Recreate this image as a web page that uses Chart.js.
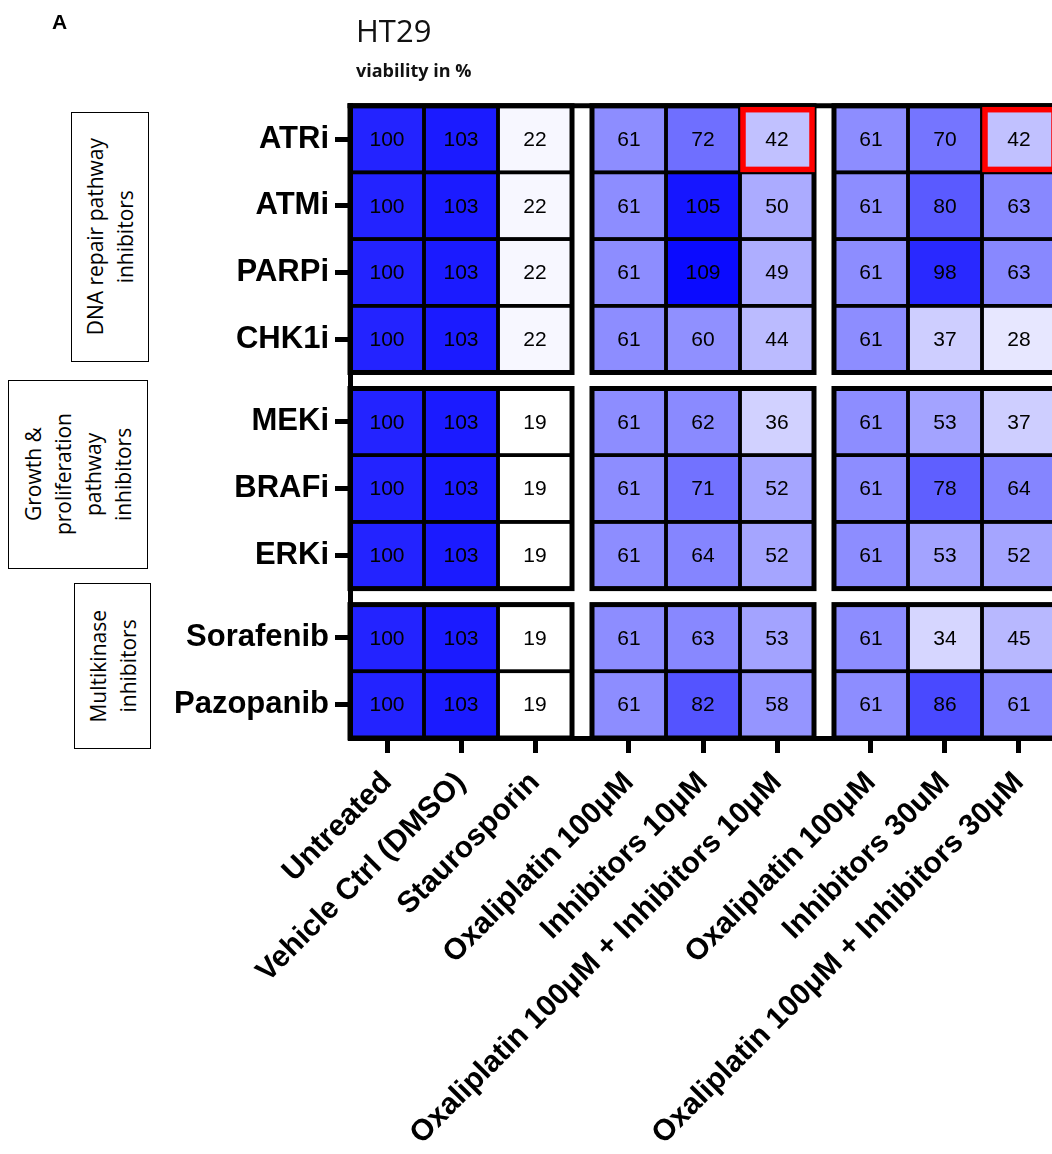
<!DOCTYPE html>
<html><head><meta charset="utf-8">
<script src="https://cdn.jsdelivr.net/npm/chart.js@4.4.1/dist/chart.umd.min.js"></script>
<style>
html,body{margin:0;padding:0;overflow:hidden;background:#fff;width:1052px;height:1154px;}
#wrap{position:relative;width:1052px;height:1154px;overflow:hidden;}
canvas{position:absolute;left:0;top:0;}
.t{position:absolute;white-space:nowrap;line-height:1;color:#000;}
.box{position:absolute;box-sizing:border-box;border:1.5px solid #000;display:flex;align-items:center;justify-content:center;background:#fff;}
.box span{writing-mode:vertical-rl;transform:rotate(180deg);font-family:'Open Sans',sans-serif;font-size:21px;line-height:30px;text-align:center;color:#000;white-space:nowrap;}
</style></head>
<body><div id="wrap">
<canvas id="c" width="1062" height="1154" style="width:1062px;height:1154px"></canvas>
<div class="t" style="left:52px;top:11px;font-family:'Liberation Sans',Arial,sans-serif;font-weight:bold;font-size:21px;">A</div>
<div class="t" style="left:356px;top:15px;font-family:'Open Sans',sans-serif;font-size:31px;color:#111;">HT29</div>
<div class="t" style="left:356px;top:61px;font-family:'Open Sans',sans-serif;font-weight:bold;font-size:18px;color:#111;">viability in %</div>
<div class="box" style="left:71px;top:112px;width:78px;height:250px;"><span>DNA repair pathway<br>inhibitors</span></div>
<div class="box" style="left:8px;top:380px;width:140px;height:189px;"><span>Growth &amp;<br>proliferation<br>pathway<br>inhibitors</span></div>
<div class="box" style="left:74px;top:583px;width:77px;height:166px;"><span>Multikinase<br>inhibitors</span></div>
</div>
<script>
// ---- data ----
const rowLabels = ['ATRi','ATMi','PARPi','CHK1i','MEKi','BRAFi','ERKi','Sorafenib','Pazopanib'];
const rowGroupOf = [0,0,0,0,1,1,1,2,2];
const colLabels = ['Untreated','Vehicle Ctrl (DMSO)','Staurosporin','Oxaliplatin 100μM','Inhibitors 10μM','Oxaliplatin 100μM + Inhibitors 10μM','Oxaliplatin 100μM','Inhibitors 30uM','Oxaliplatin 100μM + Inhibitors 30μM'];
const colGroupOf = [0,0,0,1,1,1,2,2,2];
const ATRi      = [100,103,22,61,72,42,61,70,42];
const ATMi      = [100,103,22,61,105,50,61,80,63];
const PARPi     = [100,103,22,61,109,49,61,98,63];
const CHK1i     = [100,103,22,61,60,44,61,37,28];
const MEKi      = [100,103,19,61,62,36,61,53,37];
const BRAFi     = [100,103,19,61,71,52,61,78,64];
const ERKi      = [100,103,19,61,64,52,61,53,52];
const Sorafenib = [100,103,19,61,63,53,61,34,45];
const Pazopanib = [100,103,19,61,82,58,61,86,61];
const values = [ATRi,ATMi,PARPi,CHK1i,MEKi,BRAFi,ERKi,Sorafenib,Pazopanib];
const highlighted = [[0,5],[0,8]]; // [row, col]
const colorMin = 19, colorMax = 113;

// ---- layout helpers ----
const COL_GAP = 0.27, ROW_GAP = 0.24;
const colPos = colLabels.map((_, i) => i + colGroupOf[i] * COL_GAP);
const rowPos = rowLabels.map((_, i) => i + rowGroupOf[i] * ROW_GAP);

function cellColor(v){
  let t = (v - colorMin) / (colorMax - colorMin);
  t = Math.max(0, Math.min(1, t));
  const c = Math.round(255 * (1 - t));
  return `rgb(${c},${c},255)`;
}

const datasets = values.map((row, r) => ({
  label: rowLabels[r],
  data: row.map((v, c) => ({x: colPos[c], y: rowPos[r], v: v, r: r, c: c})),
  pointRadius: 0, pointHoverRadius: 0, showLine: false
}));

function rectOf(chart, x, y, hx, hy){
  const xs = chart.scales.x, ys = chart.scales.y;
  const x0 = xs.getPixelForValue(x - hx), x1 = xs.getPixelForValue(x + hx);
  const ya = ys.getPixelForValue(y - hy), yb = ys.getPixelForValue(y + hy);
  return {x: Math.min(x0,x1), y: Math.min(ya,yb), w: Math.abs(x1-x0), h: Math.abs(yb-ya)};
}

const heatPlugin = {
  id: 'heat',
  beforeDraw(chart){
    const ctx = chart.ctx, area = chart.chartArea;
    ctx.save();
    chart.data.datasets.forEach(ds => ds.data.forEach(p => {
      const R = rectOf(chart, p.x, p.y, 0.5, 0.5);
      ctx.fillStyle = cellColor(p.v);
      ctx.fillRect(R.x, R.y, R.w, R.h);
    }));
    ctx.strokeStyle = '#000'; ctx.lineWidth = 3.5;
    chart.data.datasets.forEach(ds => ds.data.forEach(p => {
      const R = rectOf(chart, p.x, p.y, 0.5, 0.5);
      ctx.strokeRect(R.x, R.y, R.w, R.h);
    }));
    ctx.lineWidth = 5;
    const cg = [...new Set(colGroupOf)], rg = [...new Set(rowGroupOf)];
    cg.forEach(g => rg.forEach(h => {
      const cs = colPos.filter((_, i) => colGroupOf[i] === g);
      const rs = rowPos.filter((_, i) => rowGroupOf[i] === h);
      const xa = Math.min(...cs), xb = Math.max(...cs), ya = Math.min(...rs), yb = Math.max(...rs);
      const R = rectOf(chart, (xa+xb)/2, (ya+yb)/2, (xb-xa)/2 + 0.5, (yb-ya)/2 + 0.5);
      ctx.strokeRect(R.x, R.y, R.w, R.h);
    }));
    ctx.beginPath();
    ctx.moveTo(area.left - 2.5, area.top); ctx.lineTo(area.right + 2.5, area.top);
    ctx.moveTo(area.right, area.top); ctx.lineTo(area.right, area.bottom);
    ctx.stroke();
    ctx.strokeStyle = '#ff0000'; ctx.lineWidth = 5.5;
    highlighted.forEach(([r, c]) => {
      const R = rectOf(chart, colPos[c], rowPos[r], 0.5, 0.5);
      ctx.strokeRect(R.x + 3, R.y + 4, R.w - 5, R.h - 7);
    });
    ctx.fillStyle = '#000';
    ctx.font = "21px 'Liberation Sans', Arial, sans-serif";
    ctx.textAlign = 'center'; ctx.textBaseline = 'middle';
    chart.data.datasets.forEach(ds => ds.data.forEach(p => {
      ctx.fillText(String(p.v), chart.scales.x.getPixelForValue(p.x), chart.scales.y.getPixelForValue(p.y) + 1);
    }));
    ctx.restore();
  }
};

const labelFont = {family: "'Liberation Sans', Arial, sans-serif", size: 30, weight: 'bold'};
const gridOpts = {display: true, drawOnChartArea: false, drawTicks: true, tickLength: 15, tickWidth: 5, tickColor: '#000'};
const borderOpts = {display: true, width: 5, color: '#000'};

new Chart(document.getElementById('c'), {
  type: 'scatter',
  data: {datasets},
  plugins: [heatPlugin],
  options: {
    responsive: false, animation: false, events: [],
    layout: {padding: {top: 105.7, right: 6, left: 0, bottom: 0}},
    plugins: {legend: {display: false}, tooltip: {enabled: false}, title: {display: false}},
    scales: {
      x: {
        type: 'linear', position: 'bottom',
        min: -0.5, max: colPos[colPos.length - 1] + 0.5,
        afterBuildTicks: s => { s.ticks = colPos.map(v => ({value: v})); },
        afterFit: s => { s.height = 1154 - 738; },
        ticks: {autoSkip: false, minRotation: 45, maxRotation: 45, padding: 12, color: '#000', font: labelFont,
                callback: (v, i) => colLabels[i]},
        grid: gridOpts, border: borderOpts
      },
      y: {
        type: 'linear', position: 'left', reverse: true,
        min: -0.5, max: rowPos[rowPos.length - 1] + 0.5,
        afterBuildTicks: s => { s.ticks = rowPos.map(v => ({value: v})); },
        afterFit: s => { s.width = 350; },
        ticks: {autoSkip: false, padding: 6, color: '#000', font: {family: "'Liberation Sans', Arial, sans-serif", size: 31, weight: 'bold'},
                callback: (v, i) => rowLabels[i]},
        grid: gridOpts, border: borderOpts
      }
    }
  }
});
</script>
</body></html>
